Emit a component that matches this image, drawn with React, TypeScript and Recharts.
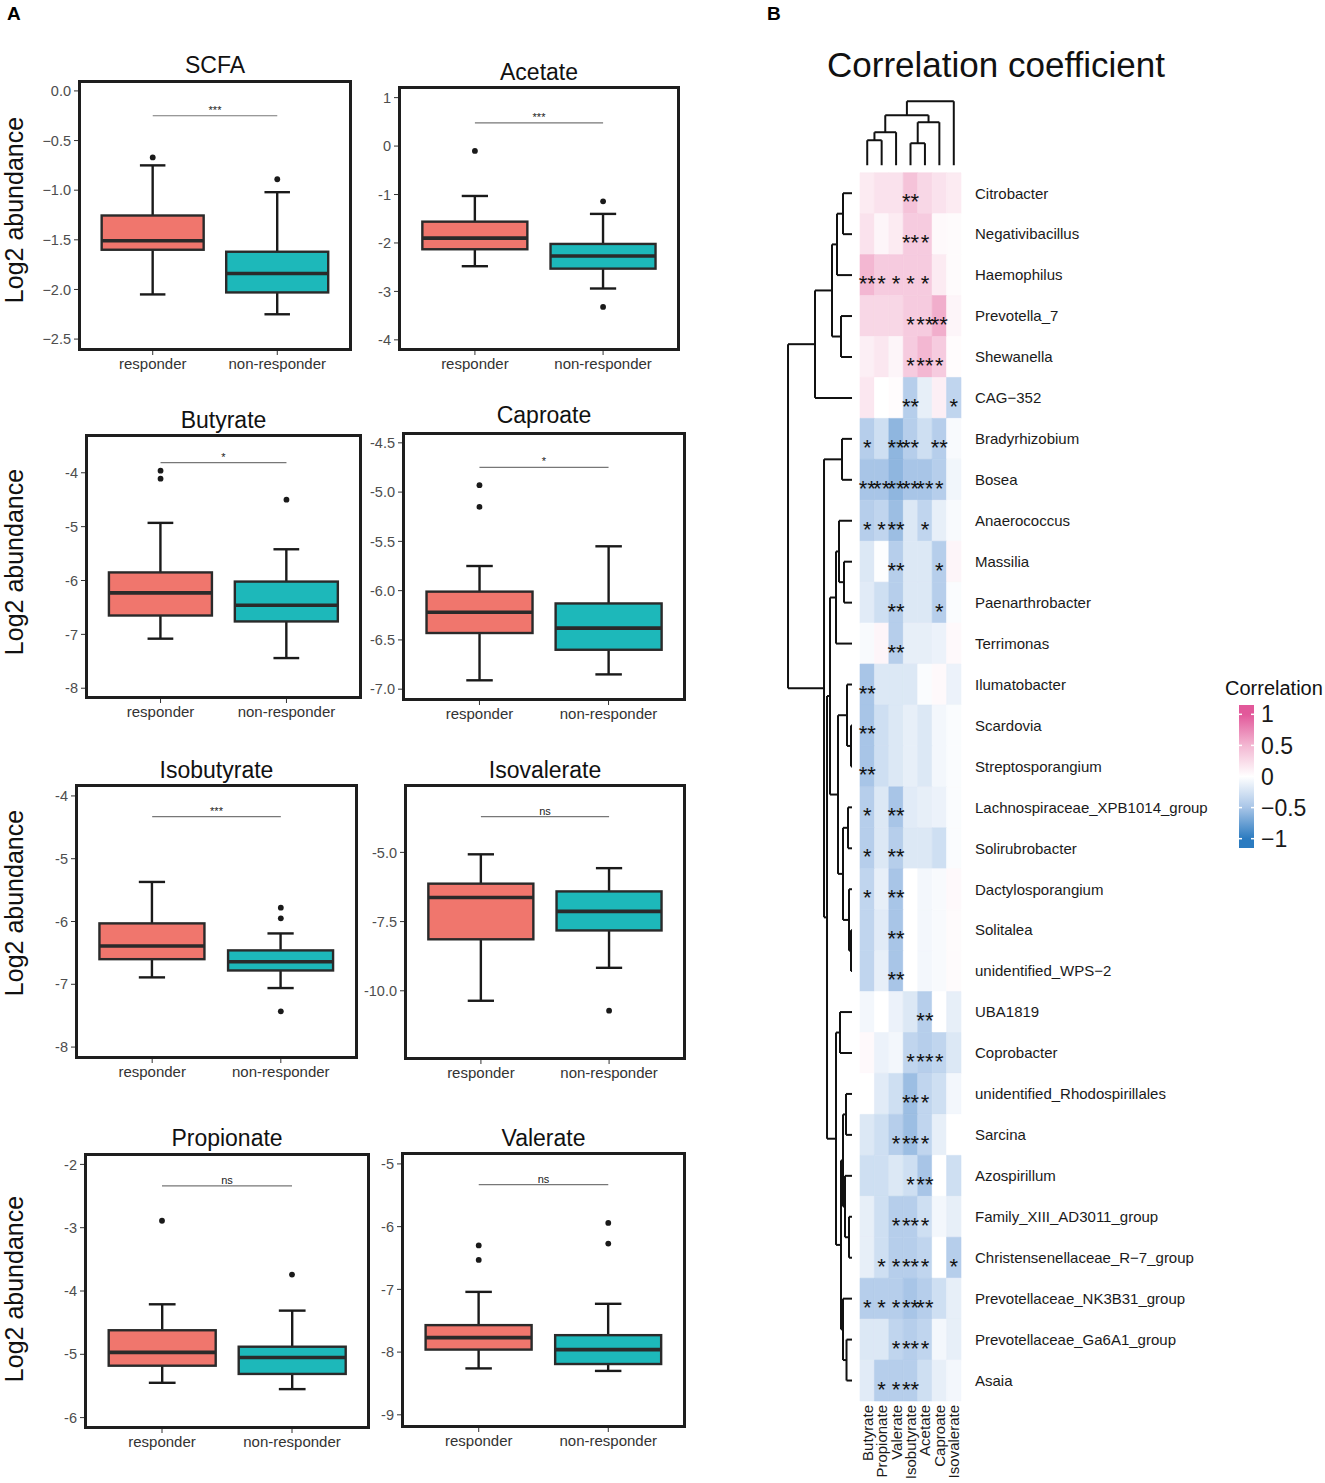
import {
  ComposedChart,
  XAxis,
  YAxis,
  Bar,
  Scatter,
  ReferenceLine,
  ReferenceArea,
} from "recharts";

/* ------------------------------------------------------------------ */
/* Panel A data: box plot stats [low whisker, q1, median, q3, high whisker] */
/* ------------------------------------------------------------------ */

const GROUPS = ["responder", "non-responder"];
const GROUP_FILLS: Record<string, string> = {
  responder: "#F0766D",
  "non-responder": "#1DB8BA",
};

const SCFA_STATS = [
  [-2.05, -1.6, -1.51, -1.255, -0.75],
  [-2.25, -2.03, -1.84, -1.62, -1.02],
];
const SCFA_OUTLIERS = [[-0.67], [-0.89]];
const SCFA_TICKS = [0, -0.5, -1, -1.5, -2, -2.5];
const SCFA_TICK_LABELS = ["0.0", "−0.5", "−1.0", "−1.5", "−2.0", "−2.5"];

const ACETATE_STATS = [
  [-2.48, -2.13, -1.9, -1.56, -1.03],
  [-2.94, -2.53, -2.27, -2.02, -1.4],
];
const ACETATE_OUTLIERS = [[-0.1], [-1.14, -3.32]];
const ACETATE_TICKS = [1, 0, -1, -2, -3, -4];
const ACETATE_TICK_LABELS = ["1", "0", "-1", "-2", "-3", "-4"];

const BUTYRATE_STATS = [
  [-7.08, -6.65, -6.23, -5.85, -4.93],
  [-7.44, -6.76, -6.46, -6.02, -5.42],
];
const BUTYRATE_OUTLIERS = [[-3.96, -4.11], [-4.5]];
const BUTYRATE_TICKS = [-4, -5, -6, -7, -8];
const BUTYRATE_TICK_LABELS = ["-4", "-5", "-6", "-7", "-8"];

const CAPROATE_STATS = [
  [-6.91, -6.43, -6.22, -6.01, -5.75],
  [-6.85, -6.6, -6.38, -6.13, -5.55],
];
const CAPROATE_OUTLIERS = [[-4.93, -5.15], []];
const CAPROATE_TICKS = [-4.5, -5, -5.5, -6, -6.5, -7];
const CAPROATE_TICK_LABELS = ["-4.5", "-5.0", "-5.5", "-6.0", "-6.5", "-7.0"];

const ISOBUTYRATE_STATS = [
  [-6.89, -6.6, -6.39, -6.03, -5.37],
  [-7.06, -6.78, -6.64, -6.46, -6.19],
];
const ISOBUTYRATE_OUTLIERS = [[], [-5.78, -5.95, -7.43]];
const ISOBUTYRATE_TICKS = [-4, -5, -6, -7, -8];
const ISOBUTYRATE_TICK_LABELS = ["-4", "-5", "-6", "-7", "-8"];

const ISOVALERATE_STATS = [
  [-10.36, -8.14, -6.63, -6.13, -5.07],
  [-9.17, -7.82, -7.13, -6.41, -5.57],
];
const ISOVALERATE_OUTLIERS = [[], [-10.72]];
const ISOVALERATE_TICKS = [-5, -7.5, -10];
const ISOVALERATE_TICK_LABELS = ["-5.0", "-7.5", "-10.0"];

const PROPIONATE_STATS = [
  [-5.45, -5.18, -4.97, -4.62, -4.21],
  [-5.55, -5.31, -5.05, -4.88, -4.31],
];
const PROPIONATE_OUTLIERS = [[-2.89], [-3.74]];
const PROPIONATE_TICKS = [-2, -3, -4, -5, -6];
const PROPIONATE_TICK_LABELS = ["-2", "-3", "-4", "-5", "-6"];

const VALERATE_STATS = [
  [-8.26, -7.96, -7.77, -7.57, -7.04],
  [-8.3, -8.19, -7.96, -7.73, -7.23],
];
const VALERATE_OUTLIERS = [[-6.3, -6.53], [-5.94, -6.27]];
const VALERATE_TICKS = [-5, -6, -7, -8, -9];
const VALERATE_TICK_LABELS = ["-5", "-6", "-7", "-8", "-9"];

/* ------------------------------------------------------------------ */
/* Panel B data */
/* ------------------------------------------------------------------ */

const COL_NAMES = [
  "Butyrate",
  "Propionate",
  "Valerate",
  "Isobutyrate",
  "Acetate",
  "Caproate",
  "Isovalerate",
];

const ROW_NAMES = [
  "Citrobacter",
  "Negativibacillus",
  "Haemophilus",
  "Prevotella_7",
  "Shewanella",
  "CAG−352",
  "Bradyrhizobium",
  "Bosea",
  "Anaerococcus",
  "Massilia",
  "Paenarthrobacter",
  "Terrimonas",
  "Ilumatobacter",
  "Scardovia",
  "Streptosporangium",
  "Lachnospiraceae_XPB1014_group",
  "Solirubrobacter",
  "Dactylosporangium",
  "Solitalea",
  "unidentified_WPS−2",
  "UBA1819",
  "Coprobacter",
  "unidentified_Rhodospirillales",
  "Sarcina",
  "Azospirillum",
  "Family_XIII_AD3011_group",
  "Christensenellaceae_R−7_group",
  "Prevotellaceae_NK3B31_group",
  "Prevotellaceae_Ga6A1_group",
  "Asaia",
];

const CORR = [
  [0.14, 0.2, 0.2, 0.42, 0.28, 0.2, 0.14],
  [0.2, 0.07, 0.14, 0.36, 0.36, 0.04, 0.03],
  [0.5, 0.36, 0.36, 0.36, 0.36, 0.14, 0.03],
  [0.28, 0.28, 0.28, 0.36, 0.36, 0.55, 0.07],
  [0.11, 0.17, 0.07, 0.36, 0.5, 0.36, 0.02],
  [0.17, 0.0, 0.02, -0.42, -0.14, 0.11, -0.36],
  [-0.42, -0.28, -0.6, -0.42, -0.28, -0.42, -0.04],
  [-0.5, -0.5, -0.6, -0.5, -0.5, -0.42, -0.08],
  [-0.42, -0.36, -0.55, -0.2, -0.36, -0.14, -0.04],
  [-0.2, -0.02, -0.42, -0.2, -0.2, -0.42, 0.07],
  [-0.17, -0.28, -0.42, -0.2, -0.2, -0.42, -0.03],
  [-0.04, 0.07, -0.42, -0.14, -0.14, -0.11, 0.04],
  [-0.5, -0.2, -0.2, -0.2, -0.03, 0.04, -0.11],
  [-0.5, -0.28, -0.2, -0.14, -0.2, -0.07, -0.03],
  [-0.5, -0.28, -0.2, -0.14, -0.2, -0.07, -0.03],
  [-0.42, -0.2, -0.5, -0.17, -0.14, -0.11, -0.03],
  [-0.42, -0.2, -0.42, -0.2, -0.2, -0.28, -0.03],
  [-0.36, -0.14, -0.5, 0.0, -0.07, -0.04, 0.04],
  [-0.36, -0.17, -0.5, 0.0, -0.07, -0.04, 0.03],
  [-0.36, -0.14, -0.5, 0.0, -0.07, -0.04, 0.03],
  [-0.07, 0.0, -0.11, -0.2, -0.42, 0.0, -0.14],
  [0.04, -0.11, -0.07, -0.36, -0.42, -0.36, -0.2],
  [0.0, -0.17, -0.28, -0.55, -0.36, -0.28, -0.07],
  [-0.2, -0.28, -0.42, -0.55, -0.36, -0.14, 0.0],
  [-0.28, -0.28, -0.2, -0.28, -0.5, 0.0, -0.28],
  [-0.14, -0.28, -0.42, -0.42, -0.28, -0.07, -0.14],
  [-0.14, -0.28, -0.42, -0.42, -0.36, 0.0, -0.42],
  [-0.42, -0.42, -0.42, -0.5, -0.42, -0.28, -0.14],
  [-0.2, -0.2, -0.36, -0.42, -0.36, -0.07, -0.14],
  [-0.17, -0.42, -0.42, -0.42, -0.28, -0.14, -0.07],
];

const STARS = [
  ["", "", "", "**", "", "", ""],
  ["", "", "", "**", "*", "", ""],
  ["**", "*", "*", "*", "*", "", ""],
  ["", "", "", "*", "**", "**", ""],
  ["", "", "", "*", "**", "*", ""],
  ["", "", "", "**", "", "", "*"],
  ["*", "", "**", "**", "", "**", ""],
  ["**", "**", "**", "**", "**", "*", ""],
  ["*", "*", "**", "", "*", "", ""],
  ["", "", "**", "", "", "*", ""],
  ["", "", "**", "", "", "*", ""],
  ["", "", "**", "", "", "", ""],
  ["**", "", "", "", "", "", ""],
  ["**", "", "", "", "", "", ""],
  ["**", "", "", "", "", "", ""],
  ["*", "", "**", "", "", "", ""],
  ["*", "", "**", "", "", "", ""],
  ["*", "", "**", "", "", "", ""],
  ["", "", "**", "", "", "", ""],
  ["", "", "**", "", "", "", ""],
  ["", "", "", "", "**", "", ""],
  ["", "", "", "*", "**", "*", ""],
  ["", "", "", "**", "*", "", ""],
  ["", "", "*", "**", "*", "", ""],
  ["", "", "", "*", "**", "", ""],
  ["", "", "*", "**", "*", "", ""],
  ["", "*", "*", "**", "*", "", "*"],
  ["*", "*", "*", "**", "**", "", ""],
  ["", "", "*", "**", "*", "", ""],
  ["", "*", "*", "**", "", "", ""],
];

// dendrograms: [left, right, merge height]; numbers are leaf indices
type Tree = number | [Tree, Tree, number];

const ROW_TREE: Tree = [
  [[[[0, 1, 9], 2, 15], [3, 4, 11], 20], 5, 37],
  [
    [6, 7, 10],
    [
      [
        [[8, [9, 10, 8], 13], 11, 16],
        [[12, [13, 14, 1], 5], [[15, 16, 4], [17, [18, 19, 1], 3], 9], 14],
        22,
      ],
      [
        [20, 21, 12],
        [[[22, 23, 6], [24, [25, 26, 3], 7], 9], [27, [28, 29, 5.5], 9], 11],
        16,
      ],
      25,
    ],
    28,
  ],
  64,
];

const COL_TREE: Tree = [
  [[[0, 1, 25], 2, 33], [[3, 4, 22], 5, 43], 50],
  6,
  64,
];

const LEGEND_TICKS = [1, 0.5, 0, -0.5, -1];
const LEGEND_LABELS = ["1", "0.5", "0", "−0.5", "−1"];

/* ------------------------------------------------------------------ */
/* Layout */
/* ------------------------------------------------------------------ */

const FONT = '"Liberation Sans", Arial, Helvetica, sans-serif';
const Y_AXIS_W = 60;
const X_AXIS_H = 30;

interface Frame {
  x: number;
  y: number;
  w: number;
  h: number;
}

interface PanelCfg {
  title: string;
  stats: number[][];
  outliers: number[][];
  ticks: number[];
  tickLabels: string[];
  domain: [number, number];
  sigY: number;
  sigLabel: string;
  frame: Frame;
  titleY: number;
}

const PANELS: PanelCfg[] = [
  { title: "SCFA", stats: SCFA_STATS, outliers: SCFA_OUTLIERS, ticks: SCFA_TICKS, tickLabels: SCFA_TICK_LABELS, domain: [-2.62, 0.11], sigY: -0.25, sigLabel: "***", frame: { x: 78, y: 80, w: 274, h: 271 }, titleY: 65 },
  { title: "Acetate", stats: ACETATE_STATS, outliers: ACETATE_OUTLIERS, ticks: ACETATE_TICKS, tickLabels: ACETATE_TICK_LABELS, domain: [-4.23, 1.24], sigY: 0.48, sigLabel: "***", frame: { x: 398, y: 86, w: 282, h: 265 }, titleY: 72 },
  { title: "Butyrate", stats: BUTYRATE_STATS, outliers: BUTYRATE_OUTLIERS, ticks: BUTYRATE_TICKS, tickLabels: BUTYRATE_TICK_LABELS, domain: [-8.2, -3.28], sigY: -3.81, sigLabel: "*", frame: { x: 85, y: 434, w: 277, h: 265 }, titleY: 420 },
  { title: "Caproate", stats: CAPROATE_STATS, outliers: CAPROATE_OUTLIERS, ticks: CAPROATE_TICKS, tickLabels: CAPROATE_TICK_LABELS, domain: [-7.12, -4.39], sigY: -4.75, sigLabel: "*", frame: { x: 402, y: 432, w: 284, h: 269 }, titleY: 415 },
  { title: "Isobutyrate", stats: ISOBUTYRATE_STATS, outliers: ISOBUTYRATE_OUTLIERS, ticks: ISOBUTYRATE_TICKS, tickLabels: ISOBUTYRATE_TICK_LABELS, domain: [-8.19, -3.81], sigY: -4.33, sigLabel: "***", frame: { x: 75, y: 784, w: 283, h: 275 }, titleY: 770 },
  { title: "Isovalerate", stats: ISOVALERATE_STATS, outliers: ISOVALERATE_OUTLIERS, ticks: ISOVALERATE_TICKS, tickLabels: ISOVALERATE_TICK_LABELS, domain: [-12.5, -2.53], sigY: -3.71, sigLabel: "ns", frame: { x: 404, y: 784, w: 282, h: 276 }, titleY: 770 },
  { title: "Propionate", stats: PROPIONATE_STATS, outliers: PROPIONATE_OUTLIERS, ticks: PROPIONATE_TICKS, tickLabels: PROPIONATE_TICK_LABELS, domain: [-6.18, -1.82], sigY: -2.34, sigLabel: "ns", frame: { x: 84, y: 1153, w: 286, h: 276 }, titleY: 1138 },
  { title: "Valerate", stats: VALERATE_STATS, outliers: VALERATE_OUTLIERS, ticks: VALERATE_TICKS, tickLabels: VALERATE_TICK_LABELS, domain: [-9.21, -4.81], sigY: -5.33, sigLabel: "ns", frame: { x: 401, y: 1152, w: 285, h: 276 }, titleY: 1138 },
];

const YLABEL_CENTERS = [210, 562, 903, 1289];

/* ------------------------------------------------------------------ */
/* Box plot pieces */
/* ------------------------------------------------------------------ */

const BoxShape = (props: any) => {
  const { x, y, width, height, payload } = props;
  const top = Math.min(y, y + height);
  const h = Math.abs(height);
  const { lo, q1, med, q3, hi, group } = payload;
  const py = (v: number) => top + ((hi - v) / (hi - lo)) * h;
  const cx = x + width / 2;
  const cap = width * 0.125;
  return (
    <g>
      <line x1={cx} x2={cx} y1={py(hi)} y2={py(lo)} stroke="#1a1a1a" strokeWidth={2.4} />
      <line x1={cx - cap} x2={cx + cap} y1={py(hi)} y2={py(hi)} stroke="#1a1a1a" strokeWidth={2.4} />
      <line x1={cx - cap} x2={cx + cap} y1={py(lo)} y2={py(lo)} stroke="#1a1a1a" strokeWidth={2.4} />
      <rect
        x={x}
        y={py(q3)}
        width={width}
        height={py(q1) - py(q3)}
        fill={GROUP_FILLS[group]}
        stroke="#2a2a2a"
        strokeWidth={2.4}
      />
      <line x1={x} x2={x + width} y1={py(med)} y2={py(med)} stroke="#2a2a2a" strokeWidth={3.6} />
    </g>
  );
};

const OutlierDot = (props: any) => (
  <circle cx={props.cx} cy={props.cy} r={2.9} fill="#1a1a1a" />
);

const BoxPanel = ({ cfg }: { cfg: PanelCfg }) => {
  const { frame } = cfg;
  const data = GROUPS.map((g, i) => ({
    group: g,
    lo: cfg.stats[i][0],
    q1: cfg.stats[i][1],
    med: cfg.stats[i][2],
    q3: cfg.stats[i][3],
    hi: cfg.stats[i][4],
  }));
  const outliers = cfg.outliers.flatMap((vals, i) =>
    vals.map(v => ({ group: GROUPS[i], value: v }))
  );
  const pad = frame.w / 22;

  return (
    <>
      <div style={{ position: "absolute", left: frame.x - Y_AXIS_W, top: frame.y }}>
        <ComposedChart
          width={frame.w + Y_AXIS_W}
          height={frame.h + X_AXIS_H}
          data={data}
          margin={{ top: 0, right: 0, bottom: 0, left: 0 }}
          barCategoryGap="9%"
        >
          <XAxis
            dataKey="group"
            type="category"
            allowDuplicatedCategory={false}
            padding={{ left: pad, right: pad }}
            axisLine={false}
            tickLine={{ stroke: "#333" }}
            tickSize={4}
            tickMargin={3}
            height={X_AXIS_H}
            interval={0}
            tick={{ fontSize: 15, fill: "#333" }}
          />
          <YAxis
            type="number"
            domain={cfg.domain}
            ticks={cfg.ticks}
            allowDataOverflow
            interval={0}
            width={Y_AXIS_W}
            axisLine={false}
            tickLine={{ stroke: "#333" }}
            tickSize={4}
            tickMargin={3}
            tick={{ fontSize: 14.5, fill: "#4d4d4d" }}
            tickFormatter={(v: number) => cfg.tickLabels[cfg.ticks.indexOf(v)] ?? String(v)}
          />
          <ReferenceLine
            segment={[
              { x: GROUPS[0], y: cfg.sigY },
              { x: GROUPS[1], y: cfg.sigY },
            ]}
            stroke="#777"
            strokeWidth={1.2}
            ifOverflow="visible"
            label={{ value: cfg.sigLabel, position: "top", offset: 2, fontSize: 11, fill: "#222" }}
          />
          <Bar dataKey={(d: any) => [d.lo, d.hi]} shape={BoxShape} isAnimationActive={false} />
          <Scatter data={outliers} dataKey="value" shape={OutlierDot} isAnimationActive={false} />
        </ComposedChart>
      </div>
      <div
        style={{
          position: "absolute",
          left: frame.x,
          top: frame.y,
          width: frame.w,
          height: frame.h,
          border: "3px solid #1e1e1e",
          boxSizing: "border-box",
          pointerEvents: "none",
        }}
      />
      <div
        style={{
          position: "absolute",
          left: frame.x + frame.w / 2,
          top: cfg.titleY,
          transform: "translate(-50%, -50%)",
          fontSize: 23,
          lineHeight: 1,
          whiteSpace: "nowrap",
          color: "#111",
        }}
      >
        {cfg.title}
      </div>
    </>
  );
};

/* ------------------------------------------------------------------ */
/* Heatmap pieces */
/* ------------------------------------------------------------------ */

const HEAT = { left: 770, top: 90, width: 451, height: 1393, mTop: 7, mLeft: 15, yAxisW: 260, xAxisH: 82 };
const X_DOMAIN: [number, number] = [-5.2, 7];
const Y_DOMAIN: [number, number] = [-1.85, 30];
const PLOT_W = HEAT.width - HEAT.mLeft - HEAT.yAxisW;
const PLOT_H = HEAT.height - HEAT.mTop - HEAT.xAxisH;
const COL_PX = PLOT_W / (X_DOMAIN[1] - X_DOMAIN[0]);
const ROW_PX = PLOT_H / (Y_DOMAIN[1] - Y_DOMAIN[0]);
const ROW_GAP = 8;
const COL_GAP = 7.5;

const PINK_MID = [243, 183, 210];
const PINK_END = [226, 88, 154];
const BLUE_MID = [168, 197, 231];
const BLUE_END = [43, 123, 192];

const corrColor = (v: number) => {
  const a = Math.min(Math.abs(v), 1);
  const mid = v >= 0 ? PINK_MID : BLUE_MID;
  const end = v >= 0 ? PINK_END : BLUE_END;
  const c =
    a <= 0.5
      ? mid.map(m => 255 + (m - 255) * (a / 0.5))
      : mid.map((m, i) => m + (end[i] - m) * ((a - 0.5) / 0.5));
  return `rgb(${c.map(Math.round).join(",")})`;
};

type Seg = [number, number, number, number];

const layoutTree = (t: Tree, segs: Seg[]): { pos: number; h: number } => {
  if (typeof t === "number") return { pos: t + 0.5, h: 0 };
  const a = layoutTree(t[0], segs);
  const b = layoutTree(t[1], segs);
  const h = t[2];
  segs.push([a.pos, a.h, a.pos, h], [b.pos, b.h, b.pos, h], [a.pos, h, b.pos, h]);
  return { pos: (a.pos + b.pos) / 2, h };
};

const rowSegs: Seg[] = [];
layoutTree(ROW_TREE, rowSegs);
const colSegs: Seg[] = [];
layoutTree(COL_TREE, colSegs);

const hToX = (h: number) => -(ROW_GAP + h) / COL_PX;
const hToY = (h: number) => -(COL_GAP + h) / ROW_PX;

const cells = CORR.flatMap((row, r) =>
  row.map((v, c) => ({ x: c + 0.5, y: r + 0.5, r, c, v, stars: STARS[r][c] }))
);
const starCells = cells.filter(d => d.stars);

const StarText = (props: any) => (
  <text
    x={props.cx}
    y={props.cy + 16}
    textAnchor="middle"
    fontSize={22}
    fill="#111"
  >
    {props.payload.stars}
  </text>
);

const ColTick = (props: any) => {
  const { x, y, payload } = props;
  return (
    <text
      x={x}
      y={y}
      transform={`rotate(-90 ${x} ${y})`}
      textAnchor="end"
      dominantBaseline="central"
      fontSize={15}
      fill="#1a1a1a"
    >
      {COL_NAMES[Math.floor(payload.value)]}
    </text>
  );
};

const Heatmap = () => (
  <div style={{ position: "absolute", left: HEAT.left, top: HEAT.top }}>
    <ComposedChart
      width={HEAT.width}
      height={HEAT.height}
      data={cells}
      margin={{ top: HEAT.mTop, right: 0, bottom: 0, left: HEAT.mLeft }}
    >
      <XAxis
        dataKey="x"
        type="number"
        domain={X_DOMAIN}
        ticks={COL_NAMES.map((_, i) => i + 0.5)}
        interval={0}
        allowDataOverflow
        axisLine={false}
        tickLine={false}
        tickSize={0}
        tickMargin={4}
        height={HEAT.xAxisH}
        tick={ColTick}
      />
      <YAxis
        dataKey="y"
        type="number"
        orientation="right"
        reversed
        domain={Y_DOMAIN}
        ticks={ROW_NAMES.map((_, i) => i + 0.5)}
        interval={0}
        allowDataOverflow
        axisLine={false}
        tickLine={false}
        tickSize={0}
        tickMargin={14}
        width={HEAT.yAxisW}
        tick={{ fontSize: 15, fill: "#1a1a1a" }}
        tickFormatter={(v: number) => ROW_NAMES[Math.floor(v)]}
      />
      {cells.map(d => (
        <ReferenceArea
          key={`cell-${d.r}-${d.c}`}
          x1={d.c}
          x2={d.c + 1}
          y1={d.r}
          y2={d.r + 1}
          fill={corrColor(d.v)}
          fillOpacity={1}
          stroke={corrColor(d.v)}
          strokeWidth={0.6}
          ifOverflow="visible"
        />
      ))}
      {rowSegs.map((s, i) => (
        <ReferenceLine
          key={`rs-${i}`}
          segment={[
            { x: hToX(s[1]), y: s[0] },
            { x: hToX(s[3]), y: s[2] },
          ]}
          stroke="#111"
          strokeWidth={2}
          ifOverflow="visible"
        />
      ))}
      {colSegs.map((s, i) => (
        <ReferenceLine
          key={`cs-${i}`}
          segment={[
            { x: s[0], y: hToY(s[1]) },
            { x: s[2], y: hToY(s[3]) },
          ]}
          stroke="#111"
          strokeWidth={2}
          ifOverflow="visible"
        />
      ))}
      <Scatter data={starCells} dataKey="y" shape={StarText} isAnimationActive={false} />
    </ComposedChart>
  </div>
);

const LEG_PAD = 14;

const ColorLegend = () => (
  <>
    <div
      style={{
        position: "absolute",
        left: 1225,
        top: 688,
        transform: "translateY(-50%)",
        fontSize: 20,
        lineHeight: 1,
        color: "#111",
        whiteSpace: "nowrap",
      }}
    >
      Correlation
    </div>
    <div style={{ position: "absolute", left: 1224, top: 705 - LEG_PAD }}>
      <ComposedChart
        width={100}
        height={143 + 2 * LEG_PAD}
        data={LEGEND_TICKS.map(v => ({ v }))}
        margin={{ top: LEG_PAD, right: 0, bottom: LEG_PAD, left: 0 }}
      >
        <defs>
          <linearGradient id="corrGrad" x1="0" y1="0" x2="0" y2="1">
            <stop offset="6.5%" stopColor="rgb(226,88,154)" />
            <stop offset="28.3%" stopColor="rgb(243,183,210)" />
            <stop offset="50%" stopColor="#ffffff" />
            <stop offset="71.7%" stopColor="rgb(168,197,231)" />
            <stop offset="93.5%" stopColor="rgb(43,123,192)" />
          </linearGradient>
        </defs>
        <XAxis type="number" dataKey="v" domain={[0, 1]} hide />
        <YAxis
          type="number"
          orientation="right"
          domain={[-1.15, 1.15]}
          ticks={LEGEND_TICKS}
          interval={0}
          allowDataOverflow
          width={70}
          axisLine={false}
          tickLine={false}
          tickSize={0}
          tickMargin={7}
          tick={{ fontSize: 23, fill: "#1a1a1a" }}
          tickFormatter={(v: number) => LEGEND_LABELS[LEGEND_TICKS.indexOf(v)]}
        />
        <ReferenceArea x1={0} x2={1} y1={-1.15} y2={1.15} fill="url(#corrGrad)" fillOpacity={1} ifOverflow="visible" />
        {LEGEND_TICKS.map(t => (
          <ReferenceLine key={`l-${t}`} segment={[{ x: 0, y: t }, { x: 0.2, y: t }]} stroke="#fff" strokeWidth={1.5} />
        ))}
        {LEGEND_TICKS.map(t => (
          <ReferenceLine key={`r-${t}`} segment={[{ x: 0.8, y: t }, { x: 1, y: t }]} stroke="#fff" strokeWidth={1.5} />
        ))}
      </ComposedChart>
    </div>
  </>
);

/* ------------------------------------------------------------------ */
/* App */
/* ------------------------------------------------------------------ */

const App = () => (
  <div
    style={{
      position: "absolute",
      left: 0,
      top: 0,
      width: 1325,
      height: 1483,
      background: "#fff",
      fontFamily: FONT,
      overflow: "hidden",
    }}
  >
    <div style={{ position: "absolute", left: 7, top: 4, fontSize: 19, fontWeight: 700, lineHeight: 1 }}>A</div>
    <div style={{ position: "absolute", left: 767, top: 4, fontSize: 19, fontWeight: 700, lineHeight: 1 }}>B</div>

    {YLABEL_CENTERS.map((cy, i) => (
      <div
        key={`yl-${i}`}
        style={{
          position: "absolute",
          left: 14,
          top: cy,
          transform: "translate(-50%, -50%) rotate(-90deg)",
          fontSize: 25,
          lineHeight: 1,
          whiteSpace: "nowrap",
          color: "#111",
        }}
      >
        Log2 abundance
      </div>
    ))}

    {PANELS.map(p => (
      <BoxPanel key={p.title} cfg={p} />
    ))}

    <div
      style={{
        position: "absolute",
        left: 996,
        top: 64,
        transform: "translate(-50%, -50%)",
        fontSize: 35,
        lineHeight: 1,
        whiteSpace: "nowrap",
        color: "#111",
      }}
    >
      Correlation coefficient
    </div>

    <Heatmap />
    <ColorLegend />
  </div>
);

export default App;
